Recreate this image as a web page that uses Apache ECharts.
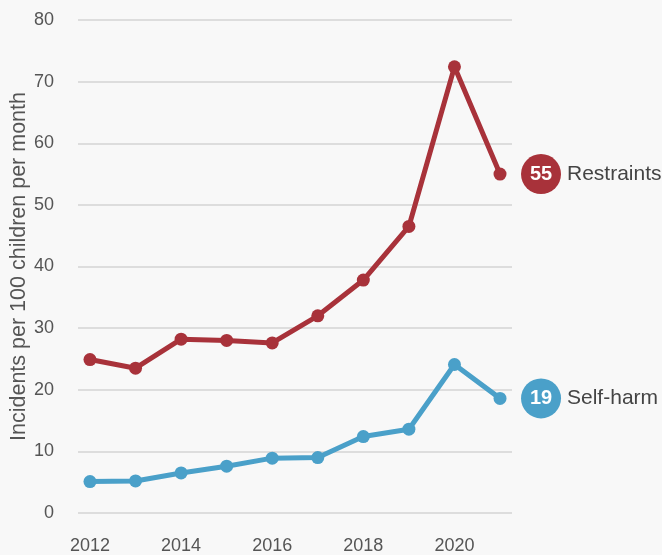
<!DOCTYPE html>
<html>
<head>
<meta charset="utf-8">
<script src="https://cdn.jsdelivr.net/npm/echarts@6/dist/echarts.min.js"></script>
<style>
  html, body { margin: 0; padding: 0; background: #f8f8f8; }
  #chart { width: 662px; height: 555px; }
</style>
</head>
<body>
<div id="chart"></div>
<script>
// Years on the x axis
const years = [2012, 2013, 2014, 2015, 2016, 2017, 2018, 2019, 2020, 2021];
// Incidents per 100 children per month
const restraints = [24.9, 23.5, 28.2, 28.0, 27.6, 32.0, 37.8, 46.5, 72.4, 55.0];
const selfHarm = [5.1, 5.2, 6.5, 7.6, 8.9, 9.0, 12.4, 13.6, 24.1, 18.6];
// Y axis ticks
const yTicks = [0, 10, 20, 30, 40, 50, 60, 70, 80];

const RED = '#a8323a';
const BLUE = '#4aa0c9';
const FONT = 'Liberation Sans';

const chart = echarts.init(document.getElementById('chart'));

function lineSeries(name, values, color) {
  return {
    name: name,
    type: 'line',
    data: years.map((y, i) => [y, values[i]]),
    symbol: 'circle',
    symbolSize: 13,
    lineStyle: { color: color, width: 5 },
    itemStyle: { color: color },
    emphasis: { disabled: true },
    endLabel: {
      show: true,
      distance: 21,
      formatter: p => '{c|' + Math.round(p.value[1]) + '}{n|' + p.seriesName + '}',
      rich: {
        c: {
          backgroundColor: color,
          borderRadius: 20,
          width: 40,
          height: 40,
          lineHeight: 40,
          align: 'center',
          color: '#fff',
          fontSize: 20,
          fontWeight: 'bold',
          fontFamily: FONT
        },
        n: {
          fontSize: 21,
          color: '#444',
          padding: [0, 0, 0, 6],
          fontFamily: FONT
        }
      }
    }
  };
}

chart.setOption({
  backgroundColor: '#f8f8f8',
  animation: false,
  textStyle: { fontFamily: FONT },
  grid: { left: 78, right: 150, top: 20, bottom: 42, containLabel: false, outerBoundsMode: 'none' },
  xAxis: {
    type: 'value',
    min: 2011.737,
    max: 2021.263,
    splitNumber: 5,
    axisLine: { show: false },
    axisTick: { show: false },
    splitLine: { show: false },
    axisLabel: {
      color: '#555',
      fontSize: 18,
      margin: 24,
      showMinLabel: false,
      showMaxLabel: false,
      formatter: v => (Number.isInteger(v) && v % 2 === 0) ? String(v) : ''
    }
  },
  yAxis: {
    type: 'value',
    min: yTicks[0],
    max: yTicks[yTicks.length - 1],
    interval: 10,
    name: 'Incidents per 100 children per month',
    nameLocation: 'middle',
    nameGap: 48,
    nameMoveOverlap: false,
    nameTextStyle: { color: '#555', fontSize: 21.5 },
    axisLine: { show: false },
    axisTick: { show: false },
    axisLabel: { color: '#555', fontSize: 18, margin: 24 },
    splitLine: { lineStyle: { color: '#dddddd', width: 2 } }
  },
  series: [
    lineSeries('Restraints', restraints, RED),
    lineSeries('Self-harm', selfHarm, BLUE)
  ]
});
</script>
</body>
</html>
